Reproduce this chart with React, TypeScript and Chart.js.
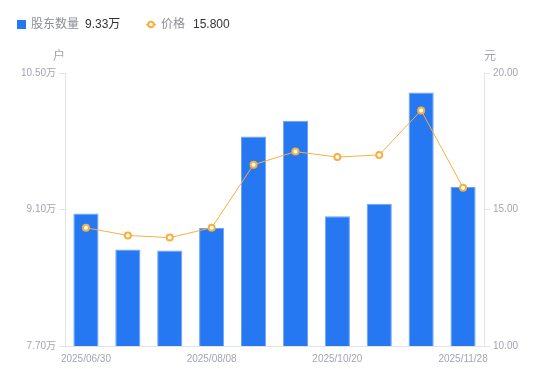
import React, { useEffect, useRef } from "react";
import { Chart, registerables } from "chart.js";

Chart.register(...registerables);

const categories = [
  "2025/06/30", "2025/07/10", "2025/07/31", "2025/08/08", "2025/08/29",
  "2025/09/19", "2025/10/20", "2025/10/31", "2025/11/10", "2025/11/28",
];
const holders = [9.06, 8.69, 8.68, 8.91, 9.85, 10.01, 9.03, 9.16, 10.3, 9.33];
const prices = [14.33, 14.05, 13.97, 14.33, 16.64, 17.12, 16.92, 17.0, 18.63, 15.8];
const holderTicks = [7.7, 9.1, 10.5];
const priceTicks = [10, 15, 20];
const shownLabelIdx = [0, 3, 6, 9];

const FONT = '"Liberation Sans", Arial, "Noto Sans CJK SC", sans-serif';
const BLUE = "#2678f2";
const ORANGE = "#f8b03c";
const TICK_COLOR = "#a2a5b0";
const AXIS_COLOR = "#e3e4e8";

const overlayPlugin = {
  id: "overlay",
  afterDraw(chart: any) {
    const ctx = chart.ctx;
    const area = chart.chartArea;
    ctx.save();
    ctx.textBaseline = "middle";
    // axis titles
    ctx.font = `12px ${FONT}`;
    ctx.fillStyle = TICK_COLOR;
    ctx.textAlign = "center";
    ctx.fillText("户", area.left - 6, area.top - 16);
    ctx.fillText("元", area.right + 6, area.top - 16);

    // legend
    const y = 24.5;
    ctx.fillStyle = BLUE;
    ctx.fillRect(17, y - 4.5, 9, 9);
    ctx.textAlign = "left";
    ctx.font = `12px ${FONT}`;
    ctx.fillStyle = "#8a8d96";
    ctx.fillText("股东数量", 31, y);
    ctx.fillStyle = "#333333";
    ctx.fillText(holders[holders.length - 1].toFixed(2) + "万", 85, y);

    ctx.strokeStyle = ORANGE;
    ctx.lineWidth = 1.5;
    ctx.beginPath();
    ctx.moveTo(146, y);
    ctx.lineTo(156, y);
    ctx.stroke();
    ctx.beginPath();
    ctx.arc(151, y, 2.8, 0, Math.PI * 2);
    ctx.fillStyle = "#ffffff";
    ctx.fill();
    ctx.lineWidth = 2;
    ctx.stroke();
    ctx.fillStyle = "#8a8d96";
    ctx.fillText("价格", 161, y);
    ctx.fillStyle = "#333333";
    ctx.fillText(prices[prices.length - 1].toFixed(3), 193, y);
    ctx.restore();
  },
};

export default function App() {
  const ref = useRef<HTMLCanvasElement | null>(null);
  useEffect(() => {
    document.body.style.margin = "0";
    if (!ref.current) return;
    const chart = new Chart(ref.current, {
      type: "bar",
      data: {
        labels: categories,
        datasets: [
          {
            type: "line",
            label: "价格",
            data: prices,
            yAxisID: "y1",
            borderColor: ORANGE,
            borderWidth: 1,
            pointRadius: 3,
            pointBorderWidth: 2,
            pointBackgroundColor: "#ffffff",
            pointBorderColor: ORANGE,
            tension: 0,
            order: 0,
          } as any,
          {
            type: "bar",
            label: "股东数量",
            data: holders,
            yAxisID: "y",
            backgroundColor: BLUE,
            borderColor: "#6fa2f5",
            borderWidth: 1,
            borderSkipped: "bottom",
            barPercentage: 0.6,
            categoryPercentage: 1,
            order: 1,
          } as any,
        ],
      },
      options: {
        animation: false,
        responsive: true,
        maintainAspectRatio: false,
        layout: { padding: { top: 73, left: 0, right: 0, bottom: 0 } },
        plugins: { legend: { display: false }, tooltip: { enabled: false } },
        scales: {
          x: {
            grid: { drawOnChartArea: false, drawTicks: false, color: AXIS_COLOR },
            border: { color: AXIS_COLOR },
            ticks: {
              autoSkip: false,
              maxRotation: 0,
              padding: 7,
              color: TICK_COLOR,
              font: { size: 10, family: FONT },
              callback: (_v: any, i: number) =>
                shownLabelIdx.includes(i) ? categories[i] : "",
            },
            afterFit: (s: any) => {
              s.height = 35;
            },
          },
          y: {
            position: "left",
            min: holderTicks[0],
            max: holderTicks[holderTicks.length - 1],
            afterBuildTicks: (s: any) => {
              s.ticks = holderTicks.map((v) => ({ value: v }));
            },
            grid: { drawOnChartArea: false, drawTicks: true, tickLength: 6, color: AXIS_COLOR },
            border: { color: AXIS_COLOR },
            ticks: {
              padding: 3,
              color: TICK_COLOR,
              font: { size: 10, family: FONT },
              callback: (v: any) => Number(v).toFixed(2) + "万",
            },
            afterFit: (s: any) => {
              s.width = 65;
            },
          },
          y1: {
            position: "right",
            min: priceTicks[0],
            max: priceTicks[priceTicks.length - 1],
            afterBuildTicks: (s: any) => {
              s.ticks = priceTicks.map((v) => ({ value: v }));
            },
            grid: { drawOnChartArea: false, drawTicks: true, tickLength: 6, color: AXIS_COLOR },
            border: { color: AXIS_COLOR },
            ticks: {
              padding: 3,
              color: TICK_COLOR,
              font: { size: 10, family: FONT },
              callback: (v: any) => Number(v).toFixed(2),
            },
            afterFit: (s: any) => {
              s.width = 66;
            },
          },
        },
      },
      plugins: [overlayPlugin],
    });
    return () => chart.destroy();
  }, []);
  return (
    <div style={{ position: "relative", width: 550, height: 381 }}>
      <canvas ref={ref} />
    </div>
  );
}
